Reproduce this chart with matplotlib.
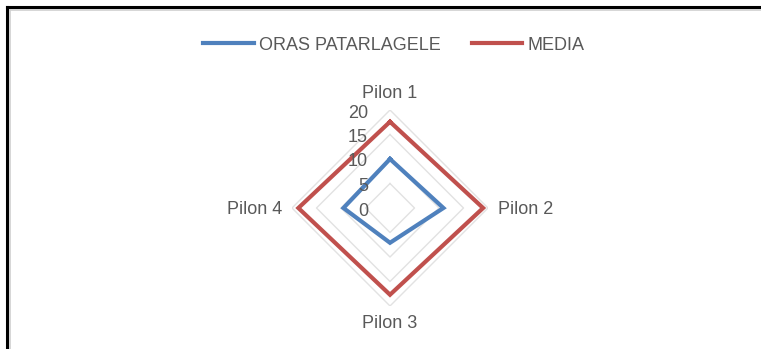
import numpy as np
import matplotlib
matplotlib.use("Agg")
import matplotlib.pyplot as plt
from matplotlib.lines import Line2D
from matplotlib.transforms import offset_copy

categories = ["Pilon 1", "Pilon 2", "Pilon 3", "Pilon 4"]
oras = [10.0, 10.9, 7.1, 9.5]
media = [17.6, 19.0, 17.7, 18.7]
series_names = ["ORAS PATARLAGELE", "MEDIA"]
tick_values = [0, 5, 10, 15, 20]

plt.rcParams['font.family'] = ['Liberation Sans', 'DejaVu Sans']
TXT = '#595959'
FS = 13

W, H = 761, 349
fig = plt.figure(figsize=(W / 100, H / 100), dpi=100)
fig.patch.set_facecolor('white')

cx, cy, R = 390, H - 208, 98
ax = fig.add_axes([(cx - R) / W, (cy - R) / H, 2 * R / W, 2 * R / H], projection='polar')
ax.set_theta_offset(np.pi / 2)
ax.set_theta_direction(-1)
ax.set_ylim(0, 20)
ax.grid(False)
ax.set_xticks([])
ax.set_yticks([])
ax.spines['polar'].set_visible(False)
ax.patch.set_alpha(0)

n = len(categories)
theta = np.linspace(0, 2 * np.pi, n, endpoint=False)
theta_c = np.append(theta, theta[0])

for lvl in tick_values[1:]:
    ax.plot(theta_c, [lvl] * (n + 1), color='#E2E2E2', lw=1.0, zorder=1)

l1, = ax.plot(theta_c, oras + [oras[0]], color='#4F81BD', lw=3.0,
              solid_joinstyle='miter', zorder=3, label=series_names[0])
l2, = ax.plot(theta_c, media + [media[0]], color='#C0504D', lw=3.0,
              solid_joinstyle='miter', zorder=3, label=series_names[1])

# radial tick labels
tr = offset_copy(ax.transData, fig=fig, x=-22, y=-3, units='dots')
for v in tick_values:
    ax.text(0, v, str(v), transform=tr, ha='right', va='center',
            fontsize=FS, color=TXT, zorder=4)

# category labels
offs = [(0, 16, 'center', 'center'), (10, -1, 'left', 'center'),
        (0, -17, 'center', 'center'), (-10, -1, 'right', 'center')]
for t, lab, (dx, dy, ha, va) in zip(theta, categories, offs):
    trc = offset_copy(ax.transData, fig=fig, x=dx, y=dy, units='dots')
    ax.text(t, 20, lab, transform=trc, ha=ha, va=va, fontsize=FS, color=TXT)

fig.legend(handles=[l1, l2], loc='center', bbox_to_anchor=(394 / W, (H - 45) / H),
           ncol=2, frameon=False, fontsize=FS, labelcolor=TXT,
           handlelength=2.8, handletextpad=0.3, columnspacing=1.7)

# chart frame (left and top borders)
fig.add_artist(Line2D([7 / W, 7 / W], [0, (H - 7) / H], color='black', lw=2.2,
                      transform=fig.transFigure, solid_capstyle='projecting'))
fig.add_artist(Line2D([7 / W, 1], [(H - 7) / H, (H - 7) / H], color='black', lw=2.2,
                      transform=fig.transFigure, solid_capstyle='projecting'))
fig.add_artist(Line2D([9.5 / W, 9.5 / W], [0, (H - 9.5) / H], color='#CFCFCF', lw=1.2,
                      transform=fig.transFigure))
fig.add_artist(Line2D([9.5 / W, 1], [(H - 9.5) / H, (H - 9.5) / H], color='#CFCFCF', lw=1.2,
                      transform=fig.transFigure))

fig.savefig('out.png', dpi=100)
